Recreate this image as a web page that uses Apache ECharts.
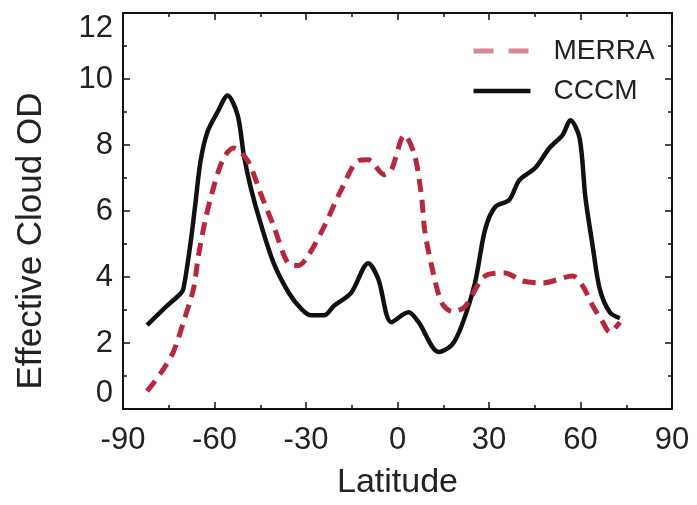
<!DOCTYPE html>
<html>
<head>
<meta charset="utf-8">
<script src="https://cdn.jsdelivr.net/npm/echarts@6/dist/echarts.min.js"></script>
<style>html,body{margin:0;padding:0;background:#fff}#c{width:697px;height:505px}</style>
</head>
<body>
<div id="c"></div>
<script>
const xTicks = [-90, -60, -30, 0, 30, 60, 90];
const yTicks = [0, 2, 4, 6, 8, 10, 12];

const merraLat = [-82.1, -77.5, -73.5, -70.2, -66.9, -65.3, -63, -60.3, -57, -53.7, -49.1, -44.8, -40.5, -35.9, -32.5, -29.4, -24.1, -18.5, -12.9, -9.6, -4.3, -2.0, 2.3, 5.6, 7.9, 8.9, 11.2, 14.5, 18, 22.1, 28.7, 35.3, 40.9, 47.5, 57.4, 60.7, 64.0, 67.3, 69.6, 72.9];
const merraOD = [0.54, 1.1, 1.73, 2.63, 3.64, 4.63, 5.73, 6.72, 7.61, 7.91, 7.52, 6.51, 5.52, 4.42, 4.35, 4.63, 5.52, 6.63, 7.52, 7.55, 7.1, 7.25, 8.3, 7.7, 6.42, 5.43, 4.33, 3.22, 2.95, 3.1, 4.03, 4.12, 3.88, 3.82, 4.03, 3.73, 3.13, 2.63, 2.33, 2.63];

const cccmLat = [-82.1, -75.5, -71.2, -70.2, -67.9, -66.3, -64.6, -62.3, -59, -55.7, -52.4, -50.4, -48.1, -44.8, -40.5, -35.5, -31.6, -28.4, -24.1, -20.8, -15.2, -9.6, -6.3, -2.0, 3.6, 6.9, 13.5, 17.8, 21.1, 25.4, 28.7, 32.0, 36.6, 39.9, 45.2, 49.8, 54.1, 56.7, 59.7, 61.6, 64.0, 66.3, 69.6, 72.9];
const cccmOD = [2.54, 3.13, 3.49, 3.64, 5.0, 6.2, 7.5, 8.4, 9.0, 9.5, 8.9, 7.7, 6.7, 5.6, 4.4, 3.5, 3.04, 2.84, 2.84, 3.13, 3.52, 4.42, 3.94, 2.63, 2.93, 2.63, 1.73, 1.94, 2.54, 3.82, 5.43, 6.12, 6.33, 6.93, 7.31, 7.91, 8.3, 8.75, 8.21, 6.42, 4.93, 3.64, 2.93, 2.75];

const FONT = 'Liberation Sans, Arial, Helvetica, sans-serif';
const RED = '#b8283c';

const pairs = (xs, ys) => xs.map((x, i) => [x, ys[i]]);

const axisCommon = {
  axisLine: { show: true, onZero: false, lineStyle: { color: '#111', width: 2 } },
  axisTick: { show: true, inside: true, length: 7, lineStyle: { color: '#111', width: 1.5 } },
  minorTick: { show: true, splitNumber: 2, length: 4, lineStyle: { color: '#111', width: 1.5 } },
  splitLine: { show: false }
};

const chart = echarts.init(document.getElementById('c'), null, { renderer: 'canvas' });
chart.setOption({
  animation: false,
  backgroundColor: '#fff',
  grid: { left: 123, top: 13, right: 25, bottom: 90, containLabel: false },
  legend: {
    orient: 'vertical',
    left: 466,
    top: 32,
    itemWidth: 57,
    itemHeight: 14,
    itemGap: 12,
    textStyle: { fontFamily: FONT, fontSize: 28, color: '#222', padding: [0, 0, 0, 18] },
    data: [
      { name: 'MERRA', itemStyle: { opacity: 0 }, lineStyle: { color: RED, width: 5, type: [20, 15], opacity: 0.55 } },
      { name: 'CCCM', itemStyle: { opacity: 0 }, lineStyle: { color: '#111', width: 4.5, type: 'solid' } }
    ]
  },
  xAxis: [
    Object.assign({}, axisCommon, {
      type: 'value', min: xTicks[0], max: xTicks[xTicks.length - 1], interval: 30, position: 'bottom',
      name: 'Latitude', nameLocation: 'middle', nameGap: 57,
      nameTextStyle: { fontFamily: FONT, fontSize: 34, color: '#222' },
      axisLabel: { fontFamily: FONT, fontSize: 31, color: '#222', margin: 16 }
    }),
    Object.assign({}, axisCommon, {
      type: 'value', min: xTicks[0], max: xTicks[xTicks.length - 1], interval: 30, position: 'top',
      axisLabel: { show: false }
    })
  ],
  yAxis: [
    Object.assign({}, axisCommon, {
      type: 'value', min: yTicks[0], max: yTicks[yTicks.length - 1], interval: 2, position: 'left',
      name: 'Effective Cloud OD', nameLocation: 'middle', nameGap: 74,
      nameTextStyle: { fontFamily: FONT, fontSize: 35, color: '#222', padding: [0, 60, 0, 0] },
      axisLabel: { fontFamily: FONT, fontSize: 31, color: '#222', margin: 10,
        verticalAlignMaxLabel: 'top', verticalAlignMinLabel: 'bottom' }
    }),
    Object.assign({}, axisCommon, {
      type: 'value', min: yTicks[0], max: yTicks[yTicks.length - 1], interval: 2, position: 'right',
      axisLabel: { show: false }
    })
  ],
  series: [
    {
      name: 'CCCM', type: 'line', xAxisIndex: 0, yAxisIndex: 0,
      data: pairs(cccmLat, cccmOD),
      showSymbol: false, symbol: 'none', smooth: 0.3,
      lineStyle: { color: '#111', width: 4.5 }, itemStyle: { color: '#111' }, z: 2
    },
    {
      name: 'MERRA', type: 'line', xAxisIndex: 0, yAxisIndex: 0,
      data: pairs(merraLat, merraOD),
      showSymbol: false, symbol: 'none', smooth: 0.3,
      lineStyle: { color: RED, width: 5, type: [13, 8] }, itemStyle: { color: RED }, z: 3
    }
  ]
});
</script>
</body>
</html>
